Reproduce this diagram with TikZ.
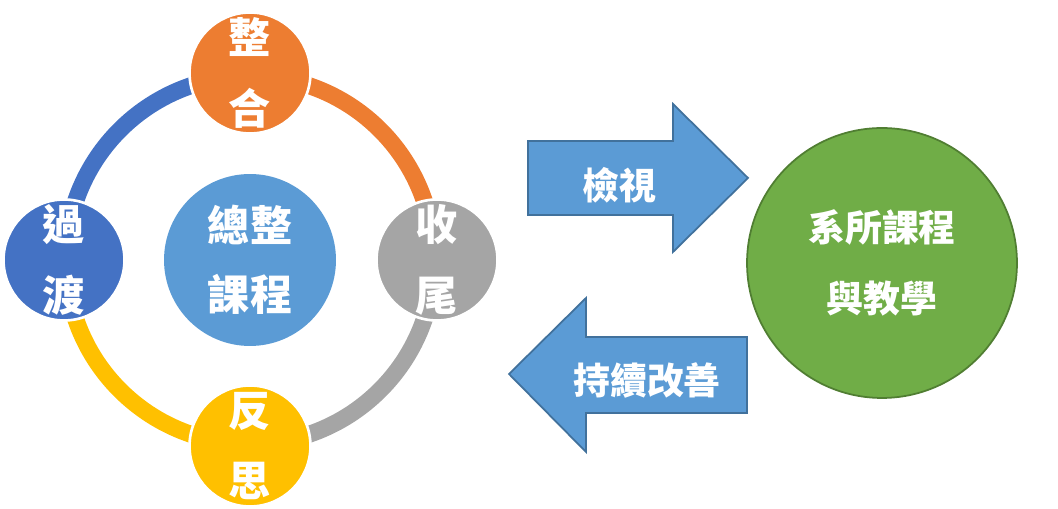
\documentclass[tikz,border=0pt]{standalone}
\usepackage{fontspec}
\newfontfamily\cjk{Noto Sans CJK TC}
\definecolor{cycblue}{RGB}{68, 114, 196}
\definecolor{cycorange}{RGB}{237, 125, 49}
\definecolor{cycgray}{RGB}{165, 165, 165}
\definecolor{cycgold}{RGB}{255, 192, 0}
\definecolor{hubblue}{RGB}{91, 155, 213}
\definecolor{arrowedge}{RGB}{65, 113, 156}
\definecolor{deptgreen}{RGB}{112, 173, 71}
\definecolor{deptedge}{RGB}{80, 126, 50}
\usetikzlibrary{positioning}

\begin{document}
\begin{tikzpicture}[x=0.02cm, y=0.02cm,
  ring/.style={line width=0.34cm},
  petal/.style={circle, draw=white, line width=1.5pt, minimum size=2.42cm, inner sep=0pt,
    text=white, align=center, font={\fontsize{24}{40}\cjk\bfseries}},
  blockarrow/.style={draw=arrowedge, fill=hubblue, line width=1pt, line join=miter},
  arrowtext/.style={text=white, font={\fontsize{21}{30}\cjk\bfseries}}]
  \useasboundingbox (0, 0) rectangle (1058, 509);

  % Center of the cycle
  \node[circle, fill=hubblue, minimum size=3.44cm, inner sep=0pt, text=white, align=center,
    font={\fontsize{24}{39}\cjk\bfseries}] (hub) at (250, 249) {總整\\課程};

  % Ring segments
  \draw[ring, cycblue] (hub.center) ++(180:184) arc[start angle=180, end angle=90, radius=184];
  \draw[ring, cycorange] (hub.center) ++(90:184) arc[start angle=90, end angle=0, radius=184];
  \draw[ring, cycgray] (hub.center) ++(0:184) arc[start angle=0, end angle=-90, radius=184];
  \draw[ring, cycgold] (hub.center) ++(-90:184) arc[start angle=-90, end angle=-180, radius=184];

  % Stages on the ring
  \node[petal, fill=cycorange] (zhenghe) at (250, 436) {整\\合};
  \node[petal, fill=cycgray] (shouwei) at (437, 249) {收\\尾};
  \node[petal, fill=cycgold] (fansi) at (250, 63) {反\\思};
  \node[petal, fill=cycblue] (guodu) at (64, 249) {過\\渡};

  % Arrow: review
  \draw[blockarrow] (528, 368) -- (673, 368) -- (673, 405) -- (748, 331) -- (673, 257) -- (673, 294) -- (528, 294) -- cycle;
  \node[arrowtext] (review) at (619, 324) {檢視};

  % Arrow: improve
  \draw[blockarrow] (747, 172) -- (586, 172) -- (586, 211) -- (509, 135) -- (586, 57) -- (586, 96) -- (747, 96) -- cycle;
  \node[arrowtext] (improve) at (647, 129) {持續改善};

  % Department courses
  \node[circle, draw=deptedge, fill=deptgreen, line width=1pt, minimum size=5.4cm, inner sep=0pt,
    text=white, align=center, font={\fontsize{21}{40}\cjk\bfseries}] (dept) at (882, 246) {系所課程\\與教學};
\end{tikzpicture}
\end{document}
